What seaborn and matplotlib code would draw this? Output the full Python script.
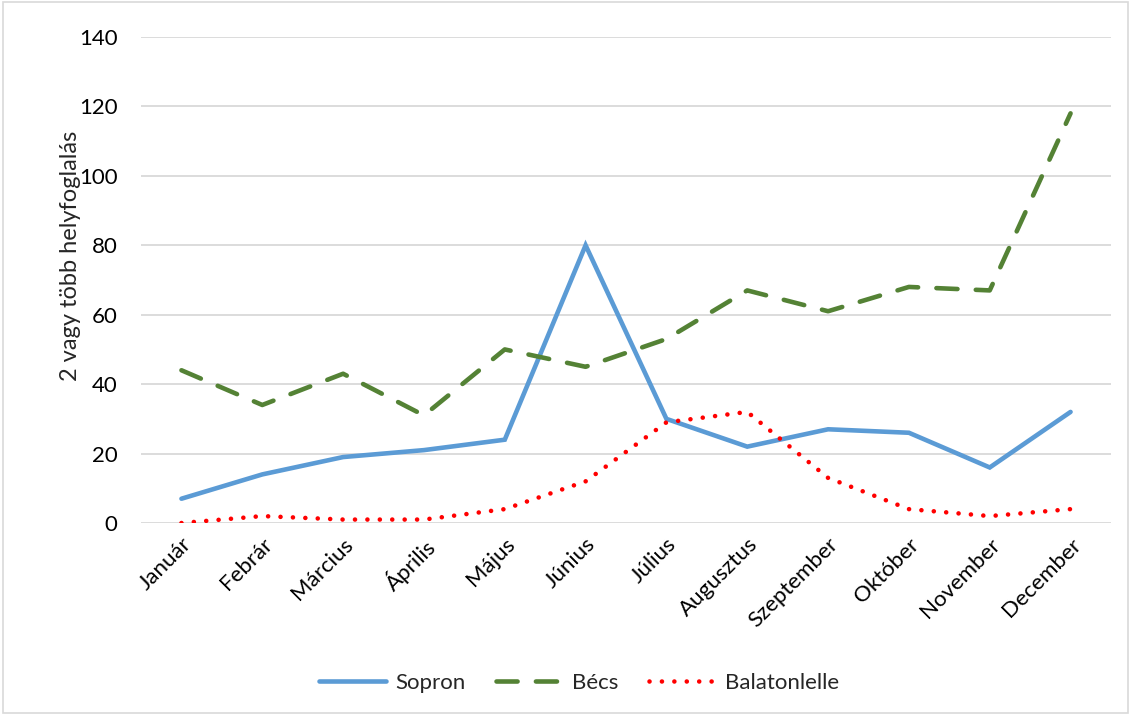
import matplotlib
matplotlib.use("Agg")
import matplotlib.pyplot as plt
import pandas as pd
import seaborn as sns

# ------------------------------------------------------------
# Data
# ------------------------------------------------------------
MONTHS = ["Január", "Febrár", "Március", "Április", "Május", "Június",
          "Július", "Augusztus", "Szeptember", "Október", "November", "December"]

SOPRON = [7, 14, 19, 21, 24, 80, 30, 22, 27, 26, 16, 32]
BECS = [44, 34, 43, 31, 50, 45, 53, 67, 61, 68, 67, 118]
BALATONLELLE = [0, 2, 1, 1, 4, 12, 29, 32, 13, 4, 2, 4]

SERIES = ["Sopron", "Bécs", "Balatonlelle"]
Y_TICKS = [0, 20, 40, 60, 80, 100, 120, 140]
Y_LABEL = "2 vagy több helyfoglalás"

COLORS = {"Sopron": "#5B9BD5", "Bécs": "#548235", "Balatonlelle": "#FF0000"}
DASHES = {"Sopron": "", "Bécs": (4.6, 4.0), "Balatonlelle": (0.01, 2.7)}


def main():
    df = pd.DataFrame({
        "month": MONTHS * 3,
        "value": SOPRON + BECS + BALATONLELLE,
        "series": [s for s in SERIES for _ in MONTHS],
    })

    sns.set_style("white")
    plt.rcParams["font.family"] = ["Lato", "DejaVu Sans"]

    fig = plt.figure(figsize=(11.31, 7.15), dpi=100)
    ax = fig.add_axes([0.1247, 0.2685, 0.8576, 0.6798])

    sns.lineplot(
        data=df, x="month", y="value", hue="series", style="series",
        hue_order=SERIES, style_order=SERIES,
        palette=COLORS, dashes=DASHES, linewidth=3.3,
        sort=False, ax=ax,
    )
    for line in ax.get_lines():
        line.set_dash_capstyle("round")
        line.set_solid_capstyle("round")
        line.set_solid_joinstyle("miter")

    ax.set_xlim(-0.5, len(MONTHS) - 0.5)
    ax.set_ylim(0, 140)
    ax.set_yticks(Y_TICKS)
    ax.yaxis.grid(True, color="#D9D9D9", linewidth=1.3)
    ax.xaxis.grid(False)
    ax.set_axisbelow(True)
    for sp in ax.spines.values():
        sp.set_visible(False)
    ax.tick_params(axis="both", length=0, labelsize=16, colors="black")
    ax.tick_params(axis="y", pad=17)
    ax.tick_params(axis="x", pad=8)
    plt.setp(ax.get_xticklabels(), rotation=45, ha="right", rotation_mode="anchor")
    ax.set_xlabel("")
    ax.set_ylabel(Y_LABEL, fontsize=17)
    ax.yaxis.set_label_coords(-0.062, 0.55)

    handles, labels = ax.get_legend_handles_labels()
    ax.legend(handles, labels, loc="center", bbox_to_anchor=(0.512, 0.045),
              bbox_transform=fig.transFigure, ncol=3, frameon=False,
              fontsize=16, handlelength=3.0, columnspacing=1.4, handletextpad=0.4)

    # light outer border like the source chart
    fig.patches.append(plt.Rectangle((0.003, 0.003), 0.994, 0.994, transform=fig.transFigure,
                                     fill=False, edgecolor="#D9D9D9", linewidth=1.2))

    fig.savefig("out.png", dpi=100)
    plt.close(fig)


if __name__ == "__main__":
    main()
